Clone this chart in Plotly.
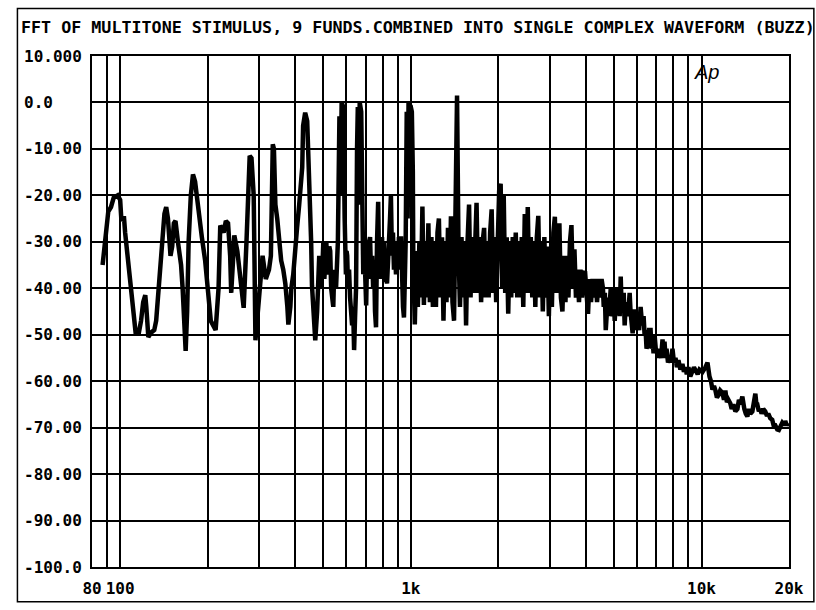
import plotly.graph_objects as go

title_text = "FFT OF MULTITONE STIMULUS, 9 FUNDS.COMBINED INTO SINGLE COMPLEX WAVEFORM (BUZZ)"

# spectrum, in four stretches
# 87 Hz .. 476 Hz
freq_bass = [87, 89, 91, 93, 95, 98, 100, 101, 103, 104,
             106, 108, 111, 113, 116, 118, 120, 122, 123, 125,
             128, 131, 133, 136, 139, 142, 144, 146, 149, 151,
             153, 155, 158, 162, 164, 166, 168, 170, 172, 175,
             178, 181, 185, 188, 191, 196, 200, 205, 213, 218,
             221, 227, 231, 235, 239, 241, 245, 247, 253, 259,
             266, 272, 277, 279, 283, 288, 292, 297, 305, 309,
             317, 325, 330, 333, 335, 338, 342, 347, 353, 358,
             364, 370, 376, 379, 385, 388, 394, 400, 406, 413,
             416, 423, 426, 433, 440, 443, 447, 450, 454, 457,
             465, 469, 476]
level_bass = [-35, -28, -23.5, -22.5, -20.5, -20, -21, -25.5, -24.5, -28,
              -33, -36, -43, -49.5, -49.5, -47, -43, -41.5, -44, -50.5,
              -49.5, -49, -47, -38, -30, -24, -22.5, -25, -33, -31,
              -26, -25.5, -30, -35, -40, -50, -53.5, -45, -30, -20,
              -15.5, -17, -22, -27, -29, -34, -40, -47, -49, -40,
              -26.5, -28, -25.5, -26, -33, -41, -33, -28.6, -32, -38,
              -44.2, -30, -16, -11.5, -12, -20, -51.2, -45, -35, -33,
              -38, -36, -33, -15, -9, -10, -22, -25, -30, -34,
              -36, -39, -44, -47.8, -44, -40, -37, -33, -27, -22,
              -20, -14, -5, -2.2, -4, -10, -15, -17, -30, -39.4,
              -48, -51.2, -45]

# 480 Hz .. 1 kHz
freq_lowmid = [480, 484, 488, 492, 496, 500, 504, 508, 512, 516,
               520, 524, 528, 532, 537, 541, 545, 549, 553, 557,
               561, 568, 573, 578, 586, 592, 598, 601, 604, 608,
               613, 618, 623, 628, 633, 638, 643, 648, 653, 657,
               662, 667, 675, 680, 686, 691, 696, 702, 707, 713,
               718, 724, 730, 736, 742, 748, 753, 759, 765, 772,
               778, 784, 790, 796, 802, 808, 815, 822, 828, 835,
               841, 848, 854, 861, 868, 875, 882, 889, 896, 903,
               910, 918, 925, 932, 940, 947, 954, 960, 968, 975,
               982, 990, 1000, 1008, 1016]
level_lowmid = [-38, -33, -40, -34, -36, -30, -38, -31, -30, -37,
                -36, -31, -32, -40, -42, -44, -36, -38, -40, -35,
                -30, -3, -20, 0, -1, -25, -37, -32, -33, -40,
                -36, -42, -45, -48, -44, -53.3, -46, -40, -10, -1,
                -22, 0, -2, -25, -37, -30, -41, -43.7, -33, -36,
                -30, -29, -38, -33, -40, -35, -45, -48.4, -30, -21.4,
                -36, -30, -38, -29, -37, -30, -38.7, -32, -39, -31.6,
                -28, -25, -20, -33, -28, -36, -31, -37, -30, -36,
                -29, -35, -28.8, -38, -44, -46.3, -36, -30, -2, -25,
                0, -1, -1, -2, -15]

# dense noise band 1 kHz .. 4.5 kHz
freq_mid = [1020, 1032, 1045, 1057, 1070, 1083, 1096, 1109, 1122, 1136, 1149, 1163, 1177, 1191,
            1205, 1220, 1235, 1249, 1264, 1280, 1295, 1310, 1326, 1342, 1358, 1374, 1391, 1408,
            1425, 1442, 1459, 1476, 1494, 1512, 1530, 1549, 1567, 1586, 1605, 1624, 1644, 1663,
            1683, 1704, 1724, 1745, 1766, 1787, 1808, 1830, 1852, 1874, 1897, 1919, 1942, 1966,
            1989, 2013, 2037, 2062, 2087, 2112, 2137, 2163, 2189, 2215, 2242, 2268, 2296, 2323,
            2351, 2379, 2408, 2437, 2466, 2496, 2525, 2556, 2586, 2617, 2649, 2681, 2713, 2745,
            2778, 2812, 2845, 2880, 2914, 2949, 2985, 3020, 3057, 3093, 3130, 3168, 3206, 3244,
            3283, 3323, 3363, 3403, 3444, 3485, 3527, 3569, 3612, 3655, 3699, 3744, 3789, 3834,
            3880, 3927, 3974, 4021, 4070, 4119, 4168, 4218, 4269, 4320, 4372, 4424, 4477, 4531]
level_mid = [-35, -47.8, -32, -44, -30, -42, -22.4, -43.6, -30, -42, -26, -43, -29, -44, -30,
             -44, -28, -25, -42, -29, -47, -30, -43, -27, -42, -24.5, -43, -47, -29, 1.5, -32,
             -44, -29, -42, -30, -48, -30, -22, -42, -29, -41, -27, -21.6, -41, -29, -43, -30,
             -27, -42, -30, -42, -28, -23, -41, -29, -43, -30, -19, -17.5, -40, -20, -41, -29,
             -45.5, -30, -42, -29, -41, -28, -42, -30, -42, -29, -44, -24, -41, -22.5, -41, -29,
             -42, -30, -44, -29, -24.4, -42, -30, -45, -29, -42, -31, -46, -31, -44, -28, -24.6,
             -41, -31, -26, -42, -45, -33, -43, -33, -42, -30, -26.4, -40, -31.6, -42, -36, -43,
             -36, -42, -37, -36.3, -42, -45.5, -38, -43, -38, -42, -38, -43, -38, -42, -38]

# roll-off 4.6 kHz .. 20 kHz
freq_high = [4580, 4610, 4650, 4684, 4720, 4758, 4800, 4840, 4873, 4910,
             4950, 4990, 5028, 5070, 5108, 5150, 5190, 5230, 5273, 5310,
             5356, 5400, 5441, 5480, 5528, 5590, 5660, 5700, 5750, 5796,
             5860, 5935, 5980, 6030, 6100, 6173, 6250, 6321, 6370, 6422,
             6470, 6525, 6600, 6681, 6730, 6787, 6840, 6895, 6980, 7060,
             7120, 7173, 7260, 7344, 7400, 7461, 7520, 7579, 7670, 7761,
             7850, 7946, 8040, 8137, 8230, 8331, 8460, 8598, 8700, 8805,
             8900, 9015, 9150, 9305, 9420, 9527, 9700, 9843, 10079, 10320,
             10485, 10652, 10780, 10907, 11040, 11168, 11300, 11436, 11600, 11800,
             11950, 12080, 12230, 12370, 12570, 12700, 12870, 13080, 13290, 13450,
             13610, 13820, 13930, 14040, 14200, 14380, 14550, 14720, 14960, 15150,
             15320, 15450, 15560, 15750, 15930, 16100, 16310, 16570, 16800, 16970,
             17250, 17510, 17700, 17930, 18220, 18450, 18650, 18950, 19200, 19410,
             19650, 19870]
level_high = [-40, -44, -41, -49, -44, -42, -46, -41, -40, -44,
              -46, -42, -47, -43, -40, -45, -42, -46, -37.5, -44,
              -44, -41, -48, -44, -43, -46, -41, -45, -47, -49.7,
              -45, -45, -49, -47, -49, -44, -48, -46, -50, -49,
              -53, -52, -49, -49, -53, -51, -54, -50, -54, -53,
              -55, -53.6, -55, -51, -54, -51.5, -55, -53, -56, -54.8,
              -56, -53, -56, -55, -57, -55.5, -57.5, -56.3, -58, -57,
              -58.5, -57, -59, -58, -57, -57.6, -58.5, -57.5, -58, -57,
              -56, -59, -60, -61.8, -61, -62, -63.5, -63, -62, -62.5,
              -64, -62, -64.5, -64, -64.8, -66, -65, -66.5, -66, -64,
              -65, -63.3, -65.5, -66, -67, -67.6, -66, -67, -66.5, -64.5,
              -62.7, -65, -65, -66.5, -66, -67, -66, -66.5, -67.5, -67,
              -68, -68.3, -69.5, -69.5, -70.4, -70.5, -70, -69, -69.5, -68.6,
              -69.5, -69]

y_ticks = [10, 0, -10, -20, -30, -40, -50, -60, -70, -80, -90, -100]
y_labels = ["10.000", "0.0", "-10.00", "-20.00", "-30.00", "-40.00", "-50.00", "-60.00",
            "-70.00", "-80.00", "-90.00", "-100.0"]
x_ticks = [80, 100, 1000, 10000, 20000]
x_labels = ["80", "100", "1k", "10k", "20k"]
x_grid = [90, 200, 300, 400, 500, 600, 700, 800, 900,
          2000, 3000, 4000, 5000, 6000, 7000, 8000, 9000]

freq = freq_bass + freq_lowmid + freq_mid + freq_high
level = level_bass + level_lowmid + level_mid + level_high
assert len(freq) == len(level)

mono = dict(family="DejaVu Sans Mono", size=16, color="black", weight="bold")

fig = go.Figure()
fig.add_trace(go.Scatter(
    x=freq,
    y=level,
    mode="lines",
    line=dict(color="black", width=4.5),
    showlegend=False,
))

# plot area is 92..793 px wide, 56..572 px tall
L, R, T, B = 92, 23, 56, 38
pw, ph = 816 - L - R, 610 - T - B


def px(x):
    return (x - L) / pw


def py(y):
    return (610 - B - y) / ph


annotations = [
    dict(text=title_text, xref="paper", yref="paper", x=px(19), y=py(27),
         xanchor="left", yanchor="middle", showarrow=False,
         font=dict(mono, size=16.7)),
    dict(text="<i>Ap</i>", xref="paper", yref="paper", x=px(710), y=py(72),
         xanchor="center", yanchor="middle", showarrow=False,
         font=dict(family="Liberation Sans", size=20, color="black")),
]
for v, t in zip(y_ticks, y_labels):
    annotations.append(dict(text=t, xref="paper", yref="y", x=px(22), y=v,
                            xanchor="left", yanchor="middle", showarrow=False, font=mono))

fig.update_layout(
    width=816,
    height=610,
    margin=dict(l=L, r=R, t=T, b=B),
    paper_bgcolor="white",
    plot_bgcolor="white",
    annotations=annotations,
    shapes=[dict(type="rect", xref="paper", yref="paper",
                 x0=px(17), x1=px(818), y0=py(607), y1=py(8),
                 line=dict(color="black", width=1.5), layer="below")],
)
fig.update_xaxes(
    type="log",
    range=[1.90309, 4.30103],
    tickmode="array",
    tickvals=x_ticks,
    ticktext=x_labels,
    tickfont=mono,
    ticks="outside",
    ticklen=6,
    tickcolor="rgba(0,0,0,0)",
    showgrid=True,
    gridcolor="black",
    gridwidth=2,
    minor=dict(tickmode="array", tickvals=x_grid, showgrid=True,
               gridcolor="black", gridwidth=2, ticks=""),
    showline=True,
    linecolor="black",
    linewidth=2,
    mirror=True,
    zeroline=False,
)
fig.update_yaxes(
    range=[-100, 10],
    tickmode="array",
    tickvals=y_ticks,
    showticklabels=False,
    showgrid=True,
    gridcolor="black",
    gridwidth=2,
    showline=True,
    linecolor="black",
    linewidth=2,
    mirror=True,
    zeroline=False,
)

# the page's default 8px body margin would shift the whole figure
fig.write_html("out.html", config={"displayModeBar": False},
               post_script="document.body.style.margin = '0';")
